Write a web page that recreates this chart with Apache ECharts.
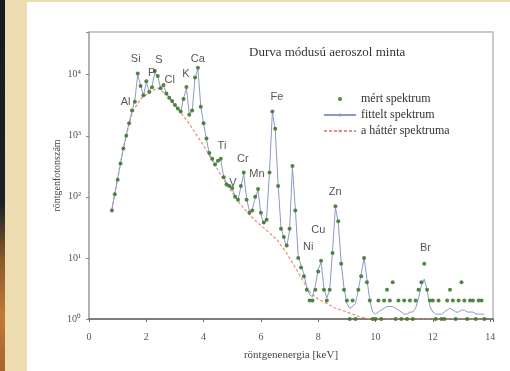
<!DOCTYPE html>
<html>
<head>
<meta charset="utf-8">
<script src="https://cdn.jsdelivr.net/npm/echarts@6/dist/echarts.min.js"></script>
<style>
html,body{margin:0;padding:0;width:510px;height:371px;overflow:hidden;background:#ecdcb0;}
#strip{position:absolute;left:0;top:0;width:5px;height:371px;background:linear-gradient(#161a24 0%,#1c2028 55%,#8a5a2a 70%,#c07a38 85%,#a8642a 100%);}
#panel{position:absolute;left:27px;top:2px;width:483px;height:369px;background:#ffffff;}
#chart{position:absolute;left:0;top:0;width:510px;height:371px;}
</style>
</head>
<body>
<div id="strip"></div>
<div id="panel"></div>
<div id="chart"></div>
<script>
// Energy channels (keV)
const energy = [0.8, 0.9,
  1.0, 1.1, 1.2, 1.3, 1.4, 1.5, 1.6, 1.7, 1.8, 1.9,
  2.0, 2.1, 2.2, 2.3, 2.4, 2.5, 2.6, 2.7, 2.8, 2.9,
  3.0, 3.1, 3.2, 3.3, 3.4, 3.5, 3.6, 3.7, 3.8, 3.9,
  4.0, 4.1, 4.2, 4.3, 4.4, 4.5, 4.6, 4.7, 4.8, 4.9,
  5.0, 5.1, 5.2, 5.3, 5.4, 5.5, 5.6, 5.7, 5.8, 5.9,
  6.0, 6.1, 6.2, 6.3, 6.4, 6.5, 6.6, 6.7, 6.8, 6.9,
  7.0, 7.1, 7.2, 7.3, 7.4, 7.5, 7.6, 7.7, 7.8, 7.9,
  8.0, 8.1, 8.2, 8.3, 8.4, 8.5, 8.6, 8.7, 8.8, 8.9,
  9.0, 9.1, 9.2, 9.3, 9.4, 9.5, 9.6, 9.7, 9.8, 9.9,
  10.0, 10.1, 10.2, 10.3, 10.4, 10.5, 10.6, 10.7, 10.8, 10.9,
  11.0, 11.1, 11.2, 11.3, 11.4, 11.5, 11.6, 11.7, 11.8, 11.9,
  12.0, 12.1, 12.2, 12.3, 12.4, 12.5, 12.6, 12.7, 12.8, 12.9,
  13.0, 13.1, 13.2, 13.3, 13.4, 13.5, 13.6, 13.7, 13.8];

// mért spektrum (measured counts)
const measured = [60, 110,
  190, 350, 620, 1000, 1600, 2600, 3600, 10500, 6500, 4600,
  7800, 5200, 6200, 11500, 9500, 6000, 6800, 4900, 4200, 3700,
  3200, 2800, 2500, 4000, 6300, 2200, 2600, 9000, 13000, 3000,
  1600, 900, 520, 420, 340, 390, 420, 210, 160, 150,
  140, 100, 90, 150, 250, 90, 55, 60, 100, 135,
  55, 38, 42, 250, 2500, 1300, 150, 30, 22, 16,
  30, 320, 60, 10, 7, 5, 3, 2, 2, 3,
  6, 9, 3, 2, 3, 12, 70, 40, 8, 3,
  2, 1, 2, 1, 3, 5, 10, 4, 2, 1,
  1, 2, 1, 2, 3, 2, 4, 1, 2, 1,
  2, 1, 2, 1, 2, 3, 4, 8, 3, 2,
  2, 1, 2, 1, 1, 2, 3, 2, 1, 2,
  4, 2, 1, 2, 2, 1, 2, 2, 1];

// fittelt spektrum (fitted)
const fitted = [62, 112,
  200, 355, 630, 1010, 1650, 2500, 3800, 10000, 6800, 4500,
  7500, 5300, 6400, 11000, 9200, 6100, 6600, 5000, 4300, 3700,
  3150, 2750, 2450, 4100, 6000, 2300, 2500, 8800, 12500, 3100,
  1550, 880, 500, 410, 335, 380, 400, 215, 165, 150,
  135, 102, 88, 145, 240, 95, 57, 62, 95, 130,
  52, 36, 45, 260, 2450, 1250, 160, 32, 21, 15,
  28, 310, 65, 11, 7.5, 5.5, 3.3, 2.5, 2.3, 3.5,
  6.5, 8.5, 3.2, 2.2, 3, 13, 68, 38, 8.5, 3.2,
  1.8, 1.5, 1.6, 1.8, 3, 5.5, 10, 4.5, 2, 1.3,
  1.2, 1.3, 1.4, 1.5, 1.6, 1.6, 1.6, 1.5, 1.4, 1.3,
  1.2, 1.2, 1.3, 1.3, 1.5, 2.2, 3.5, 4.5, 3, 1.6,
  1.3, 1.2, 1.2, 1.2, 1.3, 1.4, 1.5, 1.4, 1.3, 1.3,
  1.4, 1.4, 1.3, 1.3, 1.3, 1.2, 1.2, 1.2, 1.2];

// a háttér spektruma (background)
const background = [62, 112,
  200, 355, 630, 1000, 1580, 2240, 2820, 3390, 3980, 4370,
  4680, 5010, 5370, 5750, 6030, 5620, 5130, 4680, 4170, 3630,
  3160, 2750, 2400, 2090, 1820, 1580, 1320, 1120, 955, 813,
  692, 575, 479, 398, 331, 275, 229, 191, 162, 138,
  117, 100, 85, 74, 65, 58, 51, 46, 41, 37,
  34, 31, 28, 26, 23, 21, 19, 16, 14, 12,
  10, 8.3, 6.9, 5.8, 4.8, 4.0, 3.3, 2.8, 2.5, 2.3,
  2.1, 2.0, 1.9, 1.8, 1.7, 1.6, 1.5, 1.45, 1.4, 1.35,
  1.3, 1.25, 1.2, 1.15, 1.1, 1.08, 1.05, 1.03, 1.0, 1.0,
  1, 1, 1, 1, 1, 1, 1, 1, 1, 1,
  1, 1, 1, 1, 1, 1, 1, 1, 1, 1,
  1, 1, 1, 1, 1, 1, 1, 1, 1, 1,
  1, 1, 1, 1, 1, 1, 1, 1, 1];

// Element labels: name, energy (keV), counts
const elemNames  = ['Si', 'P', 'S', 'Cl', 'K', 'Ca', 'Al', 'Fe', 'Ti', 'Cr', 'V', 'Mn', 'Zn', 'Cu', 'Ni', 'Br'];
const elemEnergy = [1.63, 2.19, 2.44, 2.82, 3.38, 3.80, 1.28, 6.56, 4.64, 5.37, 5.02, 5.86, 8.59, 8.00, 7.65, 11.74];
const elemCounts = [18300, 10800, 17700, 8300, 10400, 18300, 3600, 4350, 690, 420, 170, 240, 120, 29, 15, 14.6];

const xTicks = [0, 2, 4, 6, 8, 10, 12, 14];
const yTickLabels = {1: '10\u2070', 10: '10\u00b9', 100: '10\u00b2', 1000: '10\u00b3', 10000: '10\u2074'};

const zip = (a, b) => a.map((v, i) => [v, b[i]]);

const chart = echarts.init(document.getElementById('chart'));
const serif = 'Liberation Serif';
chart.setOption({
  backgroundColor: 'transparent',
  animation: false,
  title: {
    text: 'Durva módusú aeroszol minta',
    left: 244, top: 41,
    textStyle: {fontFamily: serif, fontSize: 13, fontWeight: 'normal', color: '#333'}
  },
  legend: {
    data: ['mért spektrum', 'fittelt spektrum', 'a háttér spektruma'],
    orient: 'vertical', left: 318, top: 88,
    itemWidth: 32, itemHeight: 4, itemGap: 4,
    textStyle: {fontFamily: serif, fontSize: 12, color: '#333'}
  },
  grid: {left: 89, right: 17, top: 32, bottom: 52, show: true, borderColor: '#b8b8b8', borderWidth: 1.5},
  xAxis: {
    type: 'value', min: 0, max: 14.1, interval: 2,
    name: 'röntgenenergia [keV]', nameLocation: 'middle', nameGap: 31,
    nameTextStyle: {fontFamily: serif, fontSize: 11, color: '#444'},
    axisLine: {lineStyle: {color: '#666', width: 1.5}},
    axisTick: {length: 3, lineStyle: {color: '#666'}},
    axisLabel: {margin: 13, fontFamily: serif, fontSize: 10, color: '#555',
      formatter: v => (xTicks.indexOf(v) >= 0 ? String(v) : '')},
    splitLine: {show: false}
  },
  yAxis: {
    type: 'log', logBase: 10, min: 1, max: 50000,
    name: 'röntgenfotonszám', nameLocation: 'middle', nameGap: 27, nameMoveOverlap: false,
    nameTextStyle: {fontFamily: serif, fontSize: 10, color: '#444'},
    axisLine: {lineStyle: {color: '#aaa', width: 1.5}},
    axisTick: {length: 3, lineStyle: {color: '#888'}},
    axisLabel: {margin: 8, fontFamily: serif, fontSize: 10, color: '#555',
      formatter: v => (yTickLabels[Math.round(v)] && Math.abs(Math.log10(v) - Math.round(Math.log10(v))) < 1e-6 ? yTickLabels[Math.round(v)] : '')},
    splitLine: {show: false}
  },
  series: [
    {
      name: 'a háttér spektruma', type: 'line', data: zip(energy, background),
      showSymbol: false, symbol: 'none',
      lineStyle: {color: '#e4907c', width: 1.2, type: [3, 2]},
      itemStyle: {color: '#e4907c'}, z: 2
    },
    {
      name: 'fittelt spektrum', type: 'line', data: zip(energy, fitted),
      showSymbol: false, symbol: 'none',
      lineStyle: {color: '#8c98c8', width: 1},
      itemStyle: {color: '#8c98c8'}, z: 3
    },
    {
      name: 'mért spektrum', type: 'scatter', data: zip(energy, measured),
      symbol: 'circle', symbolSize: 4,
      itemStyle: {color: '#3f7a2e', opacity: 0.9}, z: 4
    },
    {
      name: 'labels', type: 'scatter',
      data: elemNames.map((n, i) => ({name: n, value: [elemEnergy[i], elemCounts[i]]})),
      symbolSize: 0, silent: true, z: 5,
      label: {show: true, position: 'inside', formatter: p => p.name,
        fontFamily: 'Liberation Sans', fontSize: 11, color: '#2a2a2a'}
    }
  ]
});
</script>
</body>
</html>
